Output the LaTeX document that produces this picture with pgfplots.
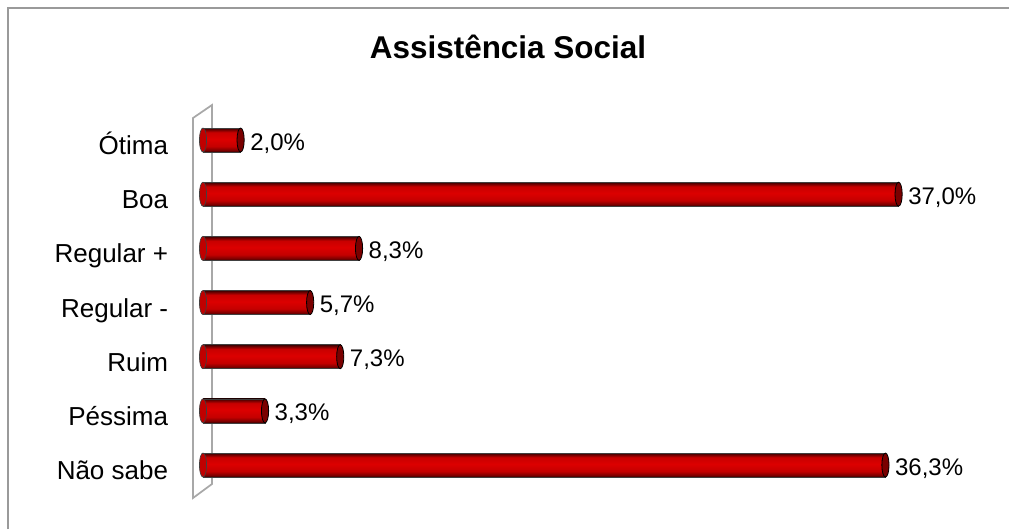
\documentclass[border=0pt]{standalone}
\usepackage{pgfplots}
\pgfplotsset{compat=1.18}
\usepackage{pgfplotstable}
\usepackage{fontspec}
\setmainfont{Liberation Sans}

\definecolor{frame}{HTML}{9A9A9A}
\definecolor{wall}{HTML}{A8A8A8}
\definecolor{capR}{HTML}{7A0000}
\definecolor{capL}{HTML}{C00000}
\definecolor{cA}{HTML}{3A0000}
\definecolor{cB}{HTML}{7E0000}
\definecolor{cC}{HTML}{C40000}
\definecolor{cD}{HTML}{DC0000}
\definecolor{cE}{HTML}{C80000}
\definecolor{cF}{HTML}{6A0000}

% cylinder look, bottom to top (path covers 25bp..75bp)
\pgfdeclareverticalshading{cylbar}{100bp}{color(0bp)=(cA); color(25bp)=(cA);
  color(29bp)=(cB); color(37bp)=(cC); color(52bp)=(cD); color(66bp)=(cE);
  color(72bp)=(cF); color(75bp)=(cA); color(100bp)=(cA)}

\pgfplotstableread{
idx val
0 2.0
1 37.0
2 8.3
3 5.7
4 7.3
5 3.3
6 36.3
}\datatab

\begin{document}
\begin{tikzpicture}
\useasboundingbox (0,0) rectangle (756.75pt,-396.75pt);
% frame, wall and title in pixel units
\begin{scope}[x=0.75pt,y=-0.75pt]
\draw[frame, line width=1.5pt] (8,529) -- (8,8) -- (1009,8);
\draw[wall, line width=1.3pt, fill=white] (193,118) -- (212,105) -- (212,484) -- (193,498) -- cycle;
\node[anchor=base, font=\bfseries\fontsize{23.6}{28}\selectfont] at (508,58) {Assistência Social};
\end{scope}

\begin{axis}[
  at={(152.25pt,-84.7pt)}, anchor=north west,
  scale only axis, width=521.7pt, height=284.4pt,
  xmin=0, xmax=37, ymin=-0.5, ymax=6.5, y dir=reverse,
  clip=false,
  axis line style={draw=none},
  xtick=\empty,
  ytick={0,...,6},
  yticklabels={Ótima,Boa,Regular +,Regular -,Ruim,Péssima,Não sabe},
  major tick length=0pt,
  yticklabel style={anchor=base east, inner sep=0pt, xshift=-26pt, yshift=-10.9pt,
    font=\fontsize{19.5}{23}\selectfont},
]
\addplot[only marks, mark=*, mark size=9pt,
  mark options={xscale=0.3, fill=capL, draw=black!75, line width=0.5pt}]
  table[x expr=0, y=idx] {\datatab};
% one plot per bar, so that each bar gets its own shading
\pgfplotsinvokeforeach{0,...,6}{
\addplot[xbar, bar width=18pt, draw=black!75, line width=0.5pt,
  shade, shading=cylbar, forget plot,
  restrict y to domain=#1:#1,
  point meta=x,
  nodes near coords={\pgfmathprintnumber[fixed, fixed zerofill, precision=1, use comma, assume math mode=true]{\pgfplotspointmeta}\%},
  every node near coord/.append style={anchor=base west, inner sep=0pt,
    xshift=7pt, yshift=-7.5pt, black, font=\fontsize{18}{22}\selectfont}]
  table[x=val, y=idx] {\datatab};
}
\addplot[only marks, mark=*, mark size=9pt,
  mark options={xscale=0.3, fill=capR, draw=black, line width=0.6pt}]
  table[x=val, y=idx] {\datatab};
\end{axis}
\end{tikzpicture}
\end{document}
